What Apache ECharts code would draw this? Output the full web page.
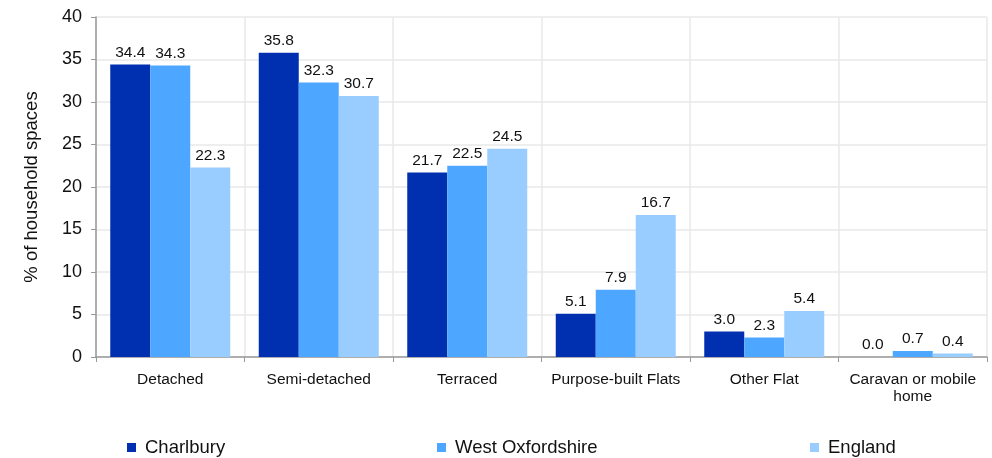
<!DOCTYPE html>
<html><head><meta charset="utf-8">
<script src="https://cdn.jsdelivr.net/npm/echarts@6/dist/echarts.min.js"></script>
<style>html,body{margin:0;padding:0;background:#fff}#c{width:992px;height:458px}</style>
</head><body><div id="c"></div>
<script>
const categories = ['Detached','Semi-detached','Terraced','Purpose-built Flats','Other Flat','Caravan or mobile\nhome'];
const charlbury = [34.4,35.8,21.7,5.1,3.0,0.0];
const westOxon = [34.3,32.3,22.5,7.9,2.3,0.7];
const england = [22.3,30.7,24.5,16.7,5.4,0.4];
const yTicks = {min:0,max:40,interval:5};
const FONT = '"Liberation Sans", Arial, sans-serif';
const colors = ['#0030b0','#4da6ff','#99ccff'];
const names = ['Charlbury','West Oxfordshire','England'];
const chart = echarts.init(document.getElementById('c'));
function mkSeries(name, data, color){
  return {name, type:'bar', data, barWidth:40, barGap:'0%', itemStyle:{color},
    label:{show:true, position:'top', distance:4, color:'#111', fontSize:15.5, fontFamily:FONT,
      formatter:p=>p.value.toFixed(1)}};
}
const legendLefts = [127, 437, 810];
chart.setOption({
  animation:false,
  textStyle:{fontFamily:FONT},
  grid:{left:96,right:5,top:17,bottom:101,containLabel:false},
  legend: names.map((n,i)=>({data:[n], left:legendLefts[i], top:438, icon:'rect', itemWidth:9, itemHeight:9, itemGap:10,
    padding:0,
    textStyle:{fontSize:18.5, color:'#111', fontFamily:FONT, padding:[0,0,0,4]}})),
  xAxis:{type:'category', data:categories,
    axisLine:{lineStyle:{color:'#999', width:1.5}},
    axisTick:{show:true, length:5, interval:0, lineStyle:{color:'#999'}},
    splitLine:{show:true, interval:0, lineStyle:{color:'#e8e8e8', width:1.5}},
    axisLabel:{color:'#111', fontSize:15.5, margin:14, lineHeight:17, interval:0, fontFamily:FONT}},
  yAxis:{type:'value', min:yTicks.min, max:yTicks.max, interval:yTicks.interval,
    name:'% of household spaces', nameLocation:'middle', nameGap:55, nameRotate:90,
    nameTextStyle:{fontSize:18.5, color:'#111', fontFamily:FONT},
    axisLine:{show:true, lineStyle:{color:'#999', width:1.5}},
    axisTick:{show:true, length:5, lineStyle:{color:'#999'}},
    splitLine:{show:true, lineStyle:{color:'#e8e8e8', width:1.5}},
    axisLabel:{color:'#111', fontSize:18, margin:14, fontFamily:FONT}},
  series:[mkSeries(names[0], charlbury, colors[0]), mkSeries(names[1], westOxon, colors[1]), mkSeries(names[2], england, colors[2])]
});
</script></body></html>
